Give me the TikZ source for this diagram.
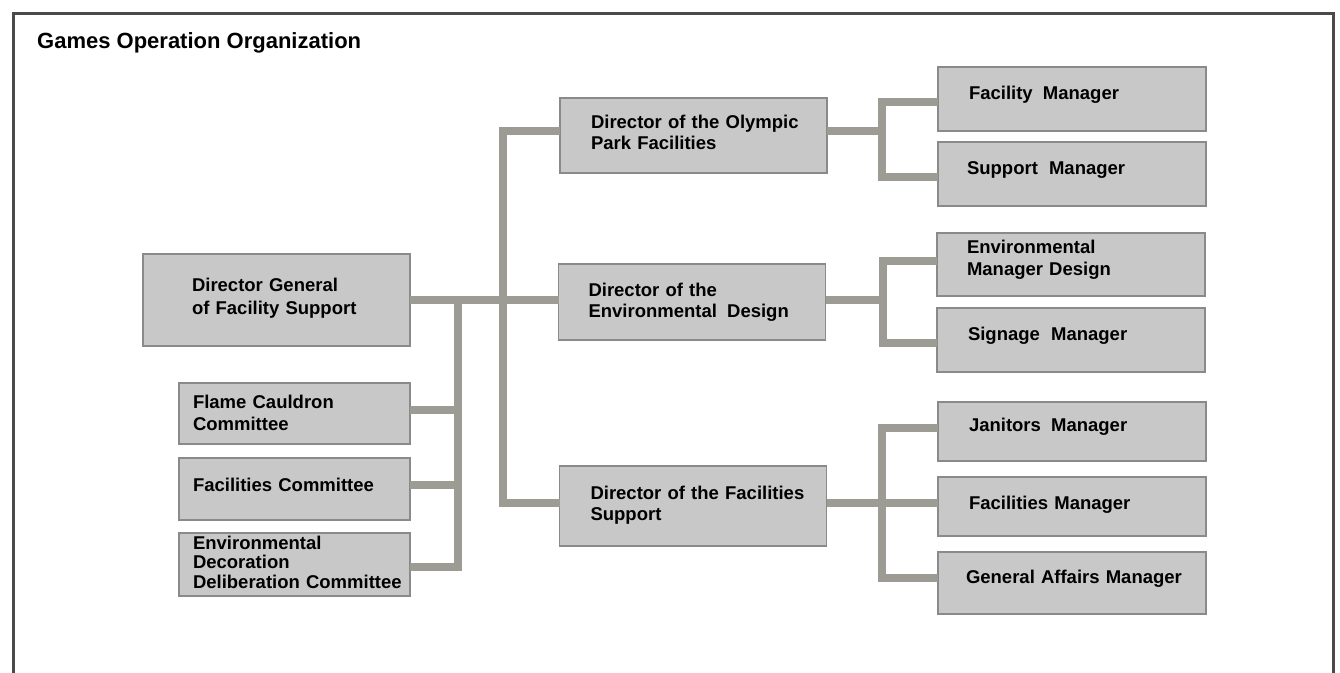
\documentclass[tikz,border=0pt]{standalone}
\usepackage{fontspec}
\setmainfont{Liberation Sans}
\usetikzlibrary{calc}

\definecolor{boxfill}{HTML}{C8C8C8}
\definecolor{boxline}{HTML}{8A8A8A}
\definecolor{linkgray}{HTML}{9C9C94}
\definecolor{framegray}{HTML}{4A4A4A}

\begin{document}
\begin{tikzpicture}[x=1pt,y=-1pt,
  textinset/.style={execute at begin node={\leftskip=#1\relax\hyphenpenalty=10000\relax}},
  orgbox/.style={draw=boxline, line width=1.6pt, fill=boxfill, rectangle,
    inner xsep=0pt, inner ysep=0pt, outer sep=0pt, align=left, text=black,
    font=\bfseries\fontsize{18.5}{21}\selectfont,
    text height=13.2pt, text depth=13pt},
  leftbox/.style={orgbox, text width=231pt, minimum width=231pt, textinset=14pt},
  midbox/.style={orgbox, text width=267pt, minimum width=267pt, textinset=31pt},
  rightbox/.style={orgbox, text width=268pt, minimum width=268pt, textinset=31pt},
  conn/.style={draw=linkgray, line width=8pt, line join=miter}
]
\useasboundingbox (0,0) rectangle (1340,672);
\fill[white] (0,0) rectangle (1340,672);
\draw[framegray, line width=3pt] (13,13) rectangle (1333,720);

\node[anchor=base west, inner sep=0pt, font=\bfseries\fontsize{22}{26}\selectfont]
  (title) at (37,48) {Games Operation Organization};

% head of the organisation
\node[orgbox, text width=267pt, minimum width=267pt, minimum height=92pt, textinset=49pt,
  font=\bfseries\fontsize{18.5}{23}\selectfont, text depth=30pt]
  (dg) at (276.5,300) {Director General\\of Facility Support};

% committees
\node[leftbox, minimum height=61pt, font=\bfseries\fontsize{18.5}{22}\selectfont, text depth=23pt]
  (flame) at (294.5,413.5) {Flame Cauldron\\Committee};
\node[leftbox, minimum height=62pt, text depth=8pt]
  (faccomm) at (294.5,489) {Facilities Committee};
\node[leftbox, minimum height=63pt, font=\bfseries\fontsize{18.5}{19.5}\selectfont, text depth=44pt]
  (envdeco) at (294.5,564.5) {Environmental\\Decoration\\Deliberation Committee};

% directors
\node[midbox, minimum height=75pt, text depth=27pt]
  (diroly) at (693.5,135.5) {Director of the Olympic\\Park Facilities};
\node[midbox, minimum height=76pt, text depth=24pt, textinset=30pt]
  (direnv) at (692,302) {Director of the\\Environmental\hspace{4pt} Design};
\node[midbox, minimum height=80pt, text depth=26pt]
  (dirfac) at (693,506) {Director of the Facilities\\Support};

% managers
\node[rightbox, minimum height=64pt]
  (facmgr) at (1072,99) {Facility\hspace{4pt} Manager};
\node[rightbox, minimum height=64pt, textinset=29pt]
  (supmgr) at (1072,174) {Support\hspace{5pt} Manager};
\node[rightbox, minimum height=63pt, textinset=30pt, text depth=35pt,
  font=\bfseries\fontsize{18.5}{22}\selectfont]
  (envmgr) at (1071,264.5) {Environmental\\Manager Design};
\node[rightbox, minimum height=64pt]
  (signage) at (1071,340) {Signage\hspace{5pt} Manager};
\node[rightbox, minimum height=59pt]
  (janitors) at (1072,431.5) {Janitors\hspace{4pt} Manager};
\node[rightbox, minimum height=59pt, text depth=7pt]
  (facmgr2) at (1072,506.5) {Facilities Manager};
\node[rightbox, minimum height=62pt, textinset=28pt]
  (genaff) at (1072,583) {General Affairs Manager};

% bus junctions
\coordinate (cbus) at (458,300);
\coordinate (trunk) at (503,300);
\coordinate (g1) at (882,131);
\coordinate (g2) at (883,300);
\coordinate (g3) at (882,503);

% connectors on the left
\draw[conn] (dg.east) -- (dg.east -| direnv.west);
\draw[conn] (cbus) |- ([yshift=-2.5pt]envdeco.east);
\draw[conn] ([yshift=3.5pt]flame.east) -- ([yshift=3.5pt]flame.east -| cbus);
\draw[conn] ([yshift=4pt]faccomm.east) -- ([yshift=4pt]faccomm.east -| cbus);
\draw[conn] ([yshift=4.5pt]diroly.west) -| (trunk) |- ([yshift=3pt]dirfac.west);

% connectors on the right
\draw[conn] ([yshift=4.5pt]diroly.east) -- (g1);
\draw[conn] ([yshift=-3pt]facmgr.west) -| (g1) |- ([yshift=-3pt]supmgr.west);
\draw[conn] ([yshift=2pt]direnv.east) -- (g2);
\draw[conn] ([yshift=3.5pt]envmgr.west) -| (g2) |- ([yshift=-3pt]signage.west);
\draw[conn] (dirfac.east |- g3) -- (g3);
\draw[conn] ([yshift=3.5pt]janitors.west) -| (g3) |- ([yshift=5pt]genaff.west);
\draw[conn] (g3) -- (g3 -| facmgr2.west);
\end{tikzpicture}
\end{document}
